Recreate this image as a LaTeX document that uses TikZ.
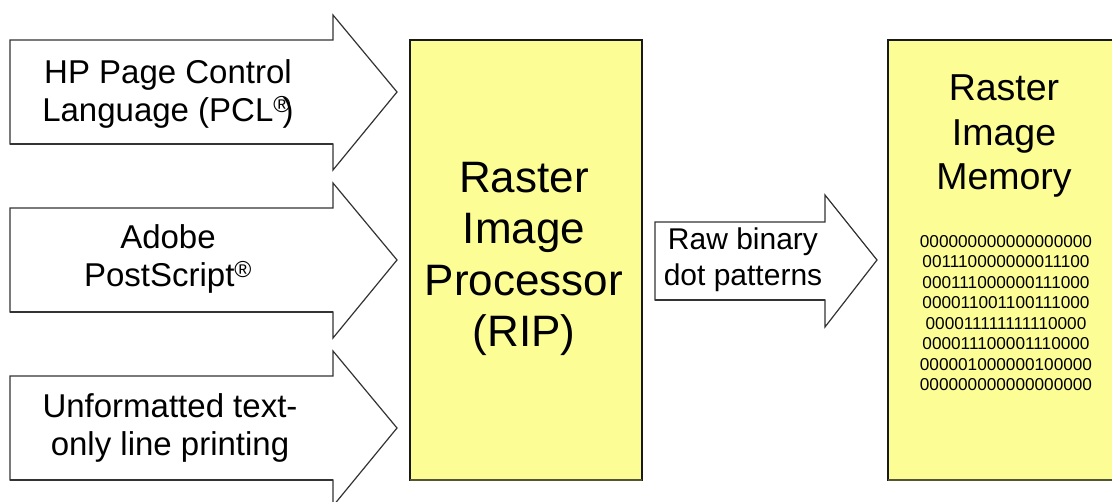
\documentclass[tikz,border=0pt]{standalone}
\usepackage{fontspec}
\setmainfont{Liberation Sans}
\definecolor{boxyellow}{HTML}{FDFD96}
\definecolor{boxshadow}{HTML}{555533}
\definecolor{arrowline}{HTML}{333333}
\begin{document}
\begin{tikzpicture}[x=1pt,y=-1pt,
  blockarrow/.style={draw=arrowline,line width=1.2pt,fill=white,line join=miter},
  yellowbox/.style={fill=boxyellow,draw=black!90,line width=2.2pt},
  intext/.style={align=center,inner sep=0pt,font=\fontsize{33}{38}\selectfont},
  riptext/.style={align=center,inner sep=0pt,font=\fontsize{44}{51.5}\selectfont},
  memtext/.style={align=center,inner sep=0pt,font=\fontsize{37.5}{44.5}\selectfont},
  bintext/.style={align=center,inner sep=0pt,font=\fontsize{17.2}{20.5}\selectfont},
  rawtext/.style={align=center,inner sep=0pt,font=\fontsize{30}{36}\selectfont}]
\useasboundingbox (0,0) rectangle (1112,502);
\clip (0,0) rectangle (1112,502);
% boxes
\draw[yellowbox] (410,40) rectangle (642,480);
\draw[boxshadow,line width=2.5pt] (410,480) -- (642,480);
\draw[yellowbox] (888,40) rectangle (1125,480);
\draw[boxshadow,line width=2.5pt] (888,480) -- (1125,480);
% input arrows
\foreach \c in {92,260,428}{
  \draw[blockarrow] (10,\c-52) -- (333,\c-52) -- (333,\c-77) -- (397,\c) -- (333,\c+78) -- (333,\c+52) -- (10,\c+52) -- cycle;
  \draw[arrowline,line width=2pt] (10,\c+52) -- (333,\c+52);
}
% output arrow
\draw[blockarrow] (655,222) -- (825,222) -- (825,195) -- (877,260) -- (825,327) -- (825,300) -- (655,300) -- cycle;
\draw[arrowline,line width=2pt] (655,300) -- (825,300);
% texts
\node[intext] (pcl) at (168,94) {HP Page Control\\Language (PCL\textsuperscript{®}\kern-0.25em)};
\node[intext] (ps) at (168,259) {Adobe\\PostScript\textsuperscript{®}};
\node[intext] (txt) at (170,428) {Unformatted text-\\only line printing};
\node[riptext] (rip) at (524,259) {Raster\\Image\\Processor\\(RIP)};
\node[rawtext] (raw) at (743,260) {Raw binary\\dot patterns};
\node[memtext] (mem) at (1004,136) {Raster\\Image\\Memory};
\node[bintext] (bin) at (1006,313) {000000000000000000\\001110000000011100\\000111000000111000\\000011001100111000\\000011111111110000\\000011100001110000\\000001000000100000\\000000000000000000};
\end{tikzpicture}
\end{document}
